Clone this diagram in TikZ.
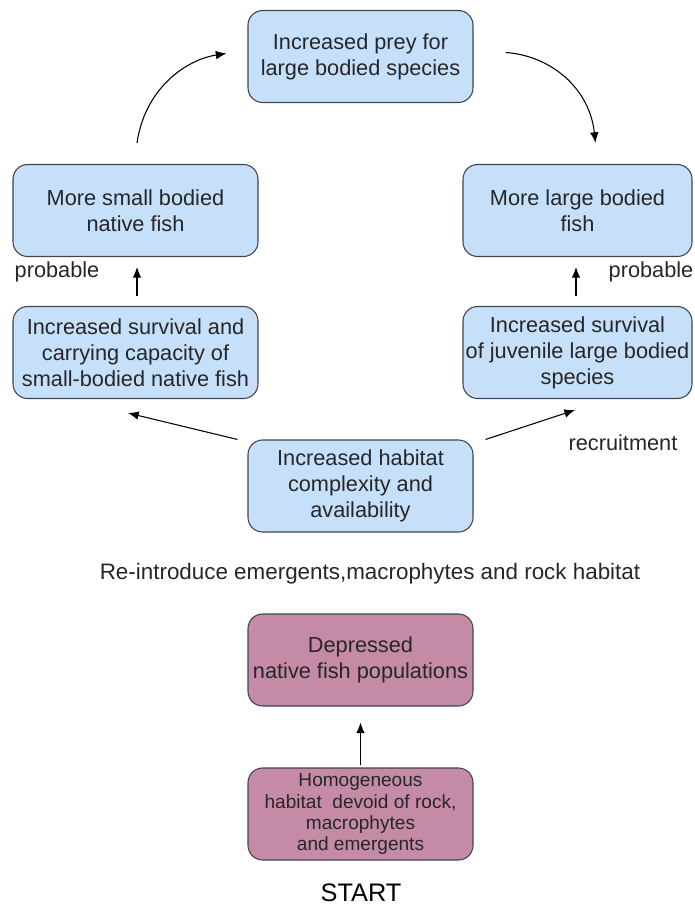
\documentclass[tikz,border=0pt]{standalone}
\usepackage{fontspec}
\setmainfont{Liberation Sans}
\usetikzlibrary{calc,arrows.meta}
\definecolor{boxblue}{RGB}{199,224,249}
\definecolor{boxpink}{RGB}{197,139,166}
\definecolor{boxline}{RGB}{62,68,80}
\definecolor{txtgrey}{RGB}{38,38,42}

\begin{document}
\begin{tikzpicture}[x=0.75pt,y=-0.75pt,
  flowbox/.style={draw=boxline,line width=0.8pt,rounded corners=11pt,align=center,text=txtgrey,inner sep=2pt,minimum height=69pt,font=\fontsize{16.3}{19.5}\selectfont},
  bluebox/.style={flowbox,fill=boxblue},
  pinkbox/.style={flowbox,fill=boxpink},
  lbl/.style={text=txtgrey,font=\fontsize{16.3}{19.5}\selectfont},
  arr/.style={-{Latex[length=8pt,width=6.5pt]},line width=0.8pt}]
\useasboundingbox (0,0) rectangle (694,911);

\node[bluebox,minimum width=168.75pt] (prey) at (360.5,56.5) {Increased prey for\\large bodied species};
\node[bluebox,minimum width=183.75pt] (smallfish) at (135.5,210.5) {More small bodied\\native fish};
\node[bluebox,minimum width=183.75pt] (survsmall) at (135.5,352.5) {Increased survival and\\carrying capacity of\\small-bodied native fish};
\node[bluebox,minimum width=171.75pt] (largefish) at (577.5,210.5) {More large bodied\\fish};
\node[bluebox,minimum width=171.75pt] (survlarge) at (577.5,352.5) {Increased survival\\of juvenile large bodied\\species};
\node[bluebox,minimum width=168.75pt] (habitat) at (360.5,486) {Increased habitat\\complexity and\\availability};
\node[pinkbox,minimum width=168.75pt] (depressed) at (360.5,660) {Depressed\\native fish populations};
\node[pinkbox,minimum width=168.75pt,font=\fontsize{14.3}{15.8}\selectfont] (homog) at (360.5,814) {Homogeneous\\habitat\ \ devoid of rock,\\macrophytes\\and emergents};

\node[lbl] (probleft) at (57,272) {probable};
\node[lbl] (probright) at (651,272) {probable};
\node[lbl] (recruit) at (623,443) {recruitment};
\node[lbl,font=\fontsize{16.8}{20}\selectfont] (reintro) at (370,574) {Re-introduce emergents,macrophytes and rock habitat};
\node[text=black,font=\fontsize{19}{23}\selectfont] (start) at (361,893) {START};

\draw[arr] ($(smallfish.north)+(1.5,-21)$) .. controls +(8,-55) and +(-40,6) .. ($(prey.west)+(-21,-3)$);
\draw[arr] ($(prey.east)+(32,-4)$) .. controls +(45,3) and +(-6,-55) .. ($(largefish.north)+(18,-21)$);
\draw[arr] ($(survsmall.north)+(1.5,-10)$) -- ($(smallfish.south)+(1.5,10)$);
\draw[arr] ($(survlarge.north)+(-1.5,-10)$) -- ($(largefish.south)+(-1.5,10)$);
\draw[arr] ($(habitat.north west)+(-10,0)$) -- ($(survsmall.south)+(-7.5,14)$);
\draw[arr] ($(habitat.north east)+(12,0)$) -- ($(survlarge.south)+(-2.5,11)$);
\draw[arr] ($(homog.north)+(0,-2)$) -- ($(depressed.south)+(0,16)$);
\end{tikzpicture}
\end{document}
